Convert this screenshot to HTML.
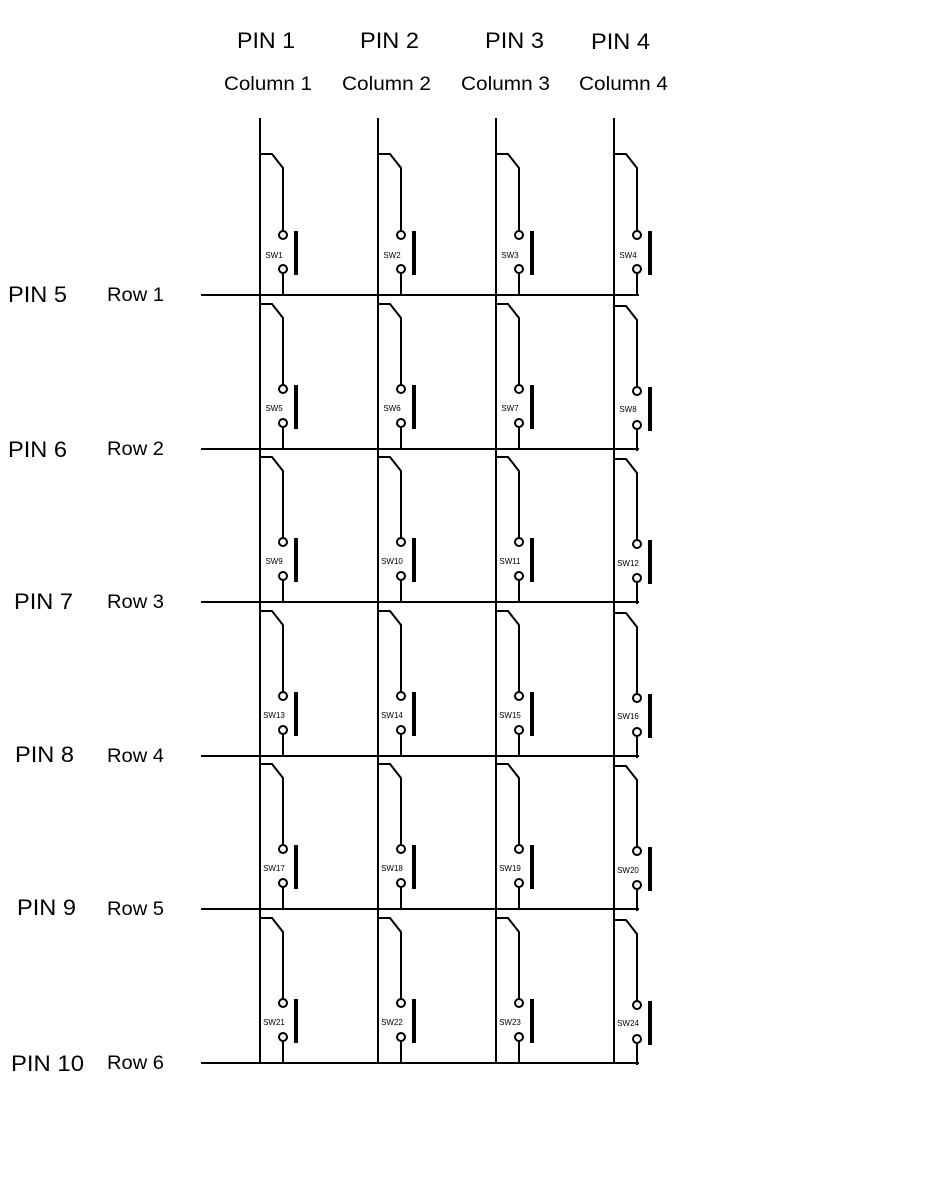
<!DOCTYPE html>
<html><head><meta charset="utf-8"><style>
html,body{margin:0;padding:0;background:#fff;}
svg{display:block;}
text{font-family:"Liberation Sans",Arial,sans-serif;fill:#000;}
</style></head><body>
<svg width="945" height="1181" viewBox="0 0 945 1181" xmlns="http://www.w3.org/2000/svg">
<defs>
<g id="sw" fill="none" stroke="#000">
<path d="M0 -141 H12 L23 -127 V-64" stroke-width="2"/>
<circle cx="23" cy="-60" r="4" stroke-width="2"/>
<circle cx="23" cy="-26" r="4" stroke-width="2"/>
<path d="M23 -22 V0" stroke-width="2"/>
<path d="M36 -64 V-20" stroke-width="4"/>
</g>
<g id="sw2" fill="none" stroke="#000">
<path d="M0 -145 H12 L23 -131 V-64" stroke-width="2"/>
<circle cx="23" cy="-60" r="4" stroke-width="2"/>
<circle cx="23" cy="-26" r="4" stroke-width="2"/>
<path d="M23 -22 V0" stroke-width="2"/>
<path d="M36 -64 V-20" stroke-width="4"/>
</g>
</defs>
<g font-size="22">
<text x="237" y="48" textLength="58" lengthAdjust="spacingAndGlyphs">PIN 1</text>
<text x="360" y="48" textLength="59" lengthAdjust="spacingAndGlyphs">PIN 2</text>
<text x="485" y="48" textLength="59" lengthAdjust="spacingAndGlyphs">PIN 3</text>
<text x="591" y="49" textLength="59" lengthAdjust="spacingAndGlyphs">PIN 4</text>
</g>
<g font-size="19">
<text x="224" y="90" textLength="88" lengthAdjust="spacingAndGlyphs">Column 1</text>
<text x="342" y="90" textLength="89" lengthAdjust="spacingAndGlyphs">Column 2</text>
<text x="461" y="90" textLength="89" lengthAdjust="spacingAndGlyphs">Column 3</text>
<text x="579" y="90" textLength="89" lengthAdjust="spacingAndGlyphs">Column 4</text>
</g>
<g font-size="22">
<text x="8" y="302" textLength="59" lengthAdjust="spacingAndGlyphs">PIN 5</text>
<text x="8" y="457" textLength="59" lengthAdjust="spacingAndGlyphs">PIN 6</text>
<text x="14" y="609" textLength="59" lengthAdjust="spacingAndGlyphs">PIN 7</text>
<text x="15" y="762" textLength="59" lengthAdjust="spacingAndGlyphs">PIN 8</text>
<text x="17" y="915" textLength="59" lengthAdjust="spacingAndGlyphs">PIN 9</text>
<text x="11" y="1071" textLength="73" lengthAdjust="spacingAndGlyphs">PIN 10</text>
</g>
<g font-size="19">
<text x="107" y="301" textLength="57" lengthAdjust="spacingAndGlyphs">Row 1</text>
<text x="107" y="455" textLength="57" lengthAdjust="spacingAndGlyphs">Row 2</text>
<text x="107" y="608" textLength="57" lengthAdjust="spacingAndGlyphs">Row 3</text>
<text x="107" y="762" textLength="57" lengthAdjust="spacingAndGlyphs">Row 4</text>
<text x="107" y="915" textLength="57" lengthAdjust="spacingAndGlyphs">Row 5</text>
<text x="107" y="1069" textLength="57" lengthAdjust="spacingAndGlyphs">Row 6</text>
</g>
<g stroke="#000" stroke-width="2">
<path d="M260 118 V1063 M378 118 V1063 M496 118 V1063 M614 118 V1063"/>
<path d="M201 295 H639 M201 449 H639 M201 602 H639 M201 756 H639 M201 909 H639 M201 1063 H639"/>
</g>
<use href="#sw" x="260" y="295"/><use href="#sw" x="378" y="295"/><use href="#sw" x="496" y="295"/><use href="#sw" x="614" y="295"/>
<use href="#sw2" x="260" y="449"/><use href="#sw2" x="378" y="449"/><use href="#sw2" x="496" y="449"/><use href="#sw2" x="614" y="451"/>
<use href="#sw2" x="260" y="602"/><use href="#sw2" x="378" y="602"/><use href="#sw2" x="496" y="602"/><use href="#sw2" x="614" y="604"/>
<use href="#sw2" x="260" y="756"/><use href="#sw2" x="378" y="756"/><use href="#sw2" x="496" y="756"/><use href="#sw2" x="614" y="758"/>
<use href="#sw2" x="260" y="909"/><use href="#sw2" x="378" y="909"/><use href="#sw2" x="496" y="909"/><use href="#sw2" x="614" y="911"/>
<use href="#sw2" x="260" y="1063"/><use href="#sw2" x="378" y="1063"/><use href="#sw2" x="496" y="1063"/><use href="#sw2" x="614" y="1065"/>
<g font-size="8" text-anchor="middle">
<text x="274" y="258">SW1</text><text x="392" y="258">SW2</text><text x="510" y="258">SW3</text><text x="628" y="258">SW4</text>
<text x="274" y="411">SW5</text><text x="392" y="411">SW6</text><text x="510" y="411">SW7</text><text x="628" y="412">SW8</text>
<text x="274" y="564">SW9</text><text x="392" y="564">SW10</text><text x="510" y="564">SW11</text><text x="628" y="566">SW12</text>
<text x="274" y="718">SW13</text><text x="392" y="718">SW14</text><text x="510" y="718">SW15</text><text x="628" y="719">SW16</text>
<text x="274" y="871">SW17</text><text x="392" y="871">SW18</text><text x="510" y="871">SW19</text><text x="628" y="873">SW20</text>
<text x="274" y="1025">SW21</text><text x="392" y="1025">SW22</text><text x="510" y="1025">SW23</text><text x="628" y="1026">SW24</text>
</g>
</svg>
</body></html>
